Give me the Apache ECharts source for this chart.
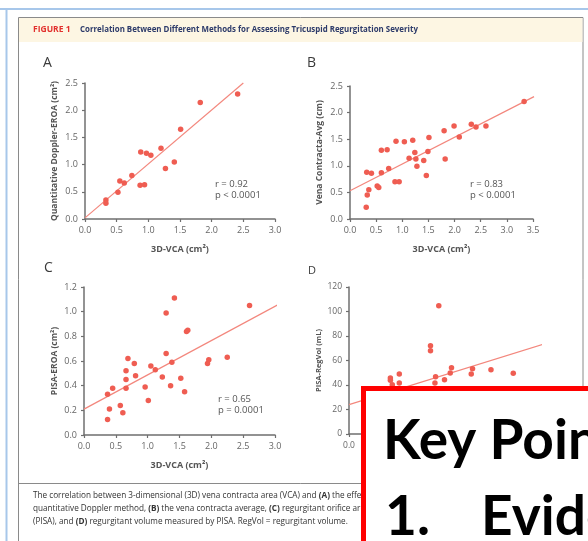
<!DOCTYPE html>
<html>
<head>
<meta charset="utf-8">
<script src="https://cdn.jsdelivr.net/npm/echarts@6/dist/echarts.min.js"></script>
<style>
  html, body { margin: 0; padding: 0; background: #fff; }
  #chart { width: 588px; height: 541px; }
</style>
</head>
<body>
<div id="chart"></div>
<script>
// panel A: 3D-VCA vs quantitative Doppler EROA
const aX = [0.33, 0.33, 0.52, 0.55, 0.62, 0.74, 0.87, 0.94, 0.88, 0.97, 1.04, 1.2, 1.27, 1.41, 1.51, 1.82, 2.41];
const aY = [0.35, 0.29, 0.49, 0.70, 0.66, 0.80, 0.62, 0.63, 1.23, 1.21, 1.17, 1.30, 0.93, 1.05, 1.65, 2.14, 2.30];
const aFit = [[0, 0.02], [2.5, 2.5]];

// panel B: 3D-VCA vs vena contracta average
const bX = [0.31, 0.33, 0.36, 0.32, 0.41, 0.52, 0.55, 0.6, 0.6, 0.71, 0.74, 0.88, 0.86, 0.94, 1.04, 1.13, 1.2, 1.24, 1.26, 1.28, 1.41, 1.46, 1.49, 1.51, 1.8, 1.82, 1.99, 2.09, 2.32, 2.41, 2.6, 3.33];
const bY = [0.22, 0.45, 0.55, 0.88, 0.86, 0.62, 0.59, 0.87, 1.29, 1.30, 0.95, 1.46, 0.70, 0.70, 1.45, 1.14, 1.48, 1.25, 1.13, 0.99, 1.10, 0.82, 1.27, 1.53, 1.66, 1.13, 1.75, 1.54, 1.78, 1.73, 1.75, 2.21];
const bFit = [[0, 0.53], [3.52, 2.30]];

// panel C: 3D-VCA vs PISA EROA
const cX = [0.37, 0.37, 0.4, 0.45, 0.57, 0.61, 0.66, 0.66, 0.66, 0.69, 0.79, 0.81, 0.96, 1.01, 1.05, 1.12, 1.23, 1.29, 1.29, 1.36, 1.38, 1.42, 1.52, 1.58, 1.61, 1.63, 1.94, 1.96, 2.25, 2.6];
const cY = [0.125, 0.33, 0.21, 0.38, 0.24, 0.18, 0.45, 0.52, 0.38, 0.62, 0.58, 0.48, 0.39, 0.28, 0.56, 0.53, 0.47, 0.66, 0.99, 0.40, 0.59, 1.11, 0.46, 0.35, 0.84, 0.85, 0.58, 0.61, 0.63, 1.05];
const cFit = [[0, 0.21], [3.24, 1.11]];

// panel D: 3D-VCA vs PISA regurgitant volume
const dX = [0.65, 0.65, 0.68, 0.79, 0.79, 1.28, 1.28, 1.41, 1.36, 1.35, 1.5, 1.59, 1.61, 1.92, 1.94, 2.23, 2.58];
const dY = [45.7, 43.8, 40.2, 49, 41.6, 72.1, 68, 104.7, 46.8, 41.6, 44.3, 49.8, 54.1, 49, 53.3, 52.5, 49.5];
const dFit = [[0, 24], [3.2, 75.6]];

const xName = '3D-VCA (cm²)';
const yNames = ['Quantitative Doppler-EROA (cm²)', 'Vena Contracta-Avg (cm)', 'PISA-EROA (cm²)', 'PISA-RegVol (mL)'];

const FONT = '"Open Sans", "Noto Sans", sans-serif';
const KEYFONT = 'Lato, "Open Sans", sans-serif';
const AXIS = '#6f6f6f';
const DOT = '#ef5d52';
const FIT = '#f3877d';

const pair = (xs, ys) => xs.map((x, i) => [x, ys[i]]);

function xAxisOf(idx, max, small) {
  return {
    type: 'value', gridIndex: idx, min: 0, max: max, interval: 0.5,
    name: xName, nameLocation: 'middle', nameGap: 26,
    nameTextStyle: { color: '#555', fontFamily: FONT, fontSize: 9, fontWeight: 'bold' },
    axisLine: { lineStyle: { color: AXIS, width: 1.5 } },
    axisTick: { show: true, length: 3, lineStyle: { color: AXIS, width: 1.2 } },
    axisLabel: { color: '#666', fontFamily: FONT, fontSize: small ? 8.5 : 9, margin: 7,
      formatter: v => v.toFixed(1) },
    splitLine: { show: false }
  };
}

function yAxisOf(idx, max, step, name, gap, small, fixed) {
  return {
    type: 'value', gridIndex: idx, min: 0, max: max, interval: step,
    name: name, nameLocation: 'middle', nameGap: gap,
    nameTextStyle: { color: '#555', fontFamily: FONT, fontSize: small ? 7.5 : 8.5, fontWeight: 'bold' },
    axisLine: { show: true, lineStyle: { color: AXIS, width: 1.5 } },
    axisTick: { show: true, length: 3, lineStyle: { color: AXIS, width: 1.2 } },
    axisLabel: { color: '#666', fontFamily: FONT, fontSize: small ? 8.5 : 9, margin: 7,
      formatter: v => fixed ? v.toFixed(1) : String(v) },
    splitLine: { show: false }
  };
}

function scatterOf(idx, data) {
  return { type: 'scatter', xAxisIndex: idx, yAxisIndex: idx, data: data,
    symbolSize: 5.5, itemStyle: { color: DOT, opacity: 1 }, silent: true, z: 3 };
}
function fitOf(idx, data) {
  return { type: 'line', xAxisIndex: idx, yAxisIndex: idx, data: data, showSymbol: false,
    lineStyle: { color: FIT, width: 1.2 }, silent: true, clip: false, z: 2 };
}

function txt(x, y, s, size, color, weight) {
  return { type: 'text', x: x, y: y, z: 10,
    style: { text: s, fill: color, fontFamily: FONT, fontSize: size, fontWeight: weight || 'normal' } };
}

function caption(y, s) {
  return { type: 'text', x: 33, y: y, z: 10, style: {
    text: s, fill: '#333', fontFamily: FONT, fontSize: 8.2,
    rich: { b: { fontWeight: 'bold', fontFamily: FONT, fontSize: 8.2, fill: '#333' } } } };
}

const chart = echarts.init(document.getElementById('chart'));
chart.setOption({
  animation: false,
  backgroundColor: '#fff',
  grid: [
    { left: 85, top: 83, width: 190, height: 136 },
    { left: 350, top: 86, width: 183, height: 133 },
    { left: 84, top: 287, width: 191, height: 148 },
    { left: 349, top: 287, width: 191, height: 147 }
  ],
  xAxis: [xAxisOf(0, 3), xAxisOf(1, 3.5), xAxisOf(2, 3), xAxisOf(3, 3, true)],
  yAxis: [
    yAxisOf(0, 2.5, 0.5, yNames[0], 26, false, true),
    yAxisOf(1, 2.5, 0.5, yNames[1], 26, false, true),
    yAxisOf(2, 1.2, 0.2, yNames[2], 25, false, true),
    yAxisOf(3, 120, 20, yNames[3], 26, true, false)
  ],
  series: [
    fitOf(0, aFit), scatterOf(0, pair(aX, aY)),
    fitOf(1, bFit), scatterOf(1, pair(bX, bY)),
    fitOf(2, cFit), scatterOf(2, pair(cX, cY)),
    fitOf(3, dFit), scatterOf(3, pair(dX, dY))
  ],
  graphic: [
    // page borders
    { type: 'line', z: 1, shape: { x1: 0, y1: 9, x2: 588, y2: 9 }, style: { stroke: '#a7c7ea', lineWidth: 2 } },
    { type: 'line', z: 1, shape: { x1: 6.5, y1: 9, x2: 6.5, y2: 541 }, style: { stroke: '#a7c7ea', lineWidth: 2 } },
    { type: 'rect', z: 1, shape: { x: 18.5, y: 17.5, width: 564.5, height: 540 }, style: { fill: 'none', stroke: '#8a8a8a', lineWidth: 1 } },
    { type: 'rect', z: 1, shape: { x: 19, y: 18, width: 563.5, height: 24 }, style: { fill: '#fdf6e3' } },
    { type: 'line', z: 1, shape: { x1: 18.5, y1: 483.5, x2: 583, y2: 483.5 }, style: { stroke: '#8a8a8a', lineWidth: 1 } },
    txt(33, 25.5, 'FIGURE 1', 8.5, '#e2302d', 'bold'),
    txt(80, 26, 'Correlation Between Different Methods for Assessing Tricuspid Regurgitation Severity', 7.9, '#2d3b6a', 'bold'),
    // panel letters
    txt(43, 56, 'A', 14, '#3a3a3a'),
    txt(307, 56, 'B', 14, '#3a3a3a'),
    txt(44, 261, 'C', 14, '#3a3a3a'),
    txt(308, 265, 'D', 11, '#3a3a3a'),
    // correlation stats
    txt(215, 179, 'r = 0.92', 9.5, '#555'),
    txt(215, 190, 'p < 0.0001', 9.5, '#555'),
    txt(470, 179, 'r = 0.83', 9.5, '#555'),
    txt(470, 190, 'p < 0.0001', 9.5, '#555'),
    txt(218, 394, 'r = 0.65', 9.5, '#555'),
    txt(218, 405, 'p = 0.0001', 9.5, '#555'),
    // caption
    caption(492, 'The correlation between 3-dimensional (3D) vena contracta area (VCA) and {b|(A)} the effective regurgitant orifice'),
    caption(505, 'quantitative Doppler method, {b|(B)} the vena contracta average, {b|(C)} regurgitant orifice area measured'),
    caption(518, '(PISA), and {b|(D)} regurgitant volume measured by PISA. RegVol = regurgitant volume.'),
    // overlay box from the slide
    { type: 'rect', z: 50, shape: { x: 363.5, y: 388.5, width: 300, height: 200 }, style: { fill: '#fff', stroke: '#ff0000', lineWidth: 5 } },
    { type: 'text', z: 60, x: 383, y: 414, style: { text: 'Key Points', fill: '#000', fontFamily: KEYFONT, fontSize: 55, fontWeight: 'bold' } },
    { type: 'text', z: 60, x: 385, y: 490, style: { text: '1.', fill: '#000', fontFamily: KEYFONT, fontSize: 55, fontWeight: 'bold' } },
    { type: 'text', z: 60, x: 481, y: 490, style: { text: 'Evidence', fill: '#000', fontFamily: KEYFONT, fontSize: 55, fontWeight: 'bold' } }
  ]
});
</script>
</body>
</html>
